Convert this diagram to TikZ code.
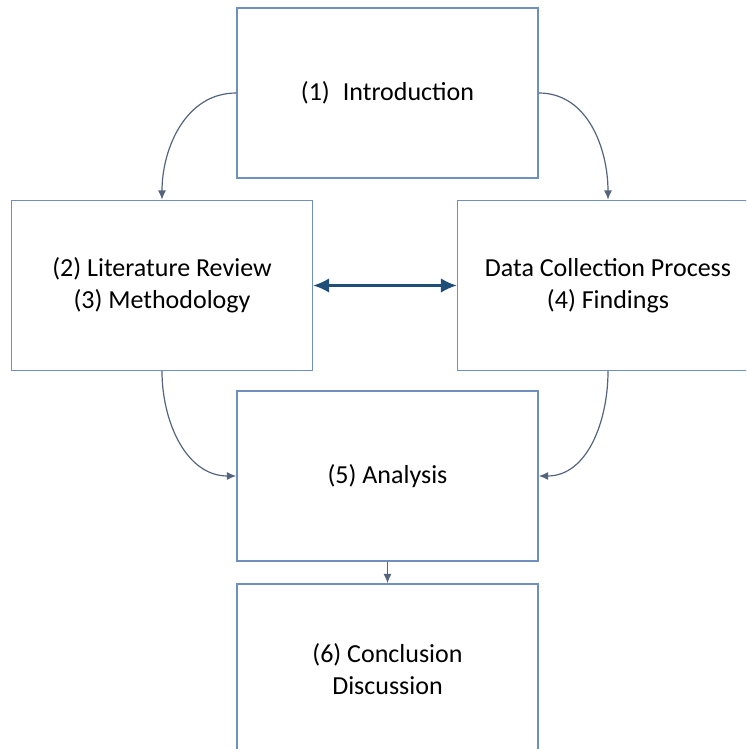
\documentclass[tikz,border=0pt]{standalone}
\usepackage{fontspec}
\setmainfont{Carlito}
\usetikzlibrary{positioning,arrows.meta}
\definecolor{boxline}{HTML}{6F8FBF}
\definecolor{curveline}{HTML}{53647C}
\definecolor{darkarrow}{HTML}{1F4E79}
\tikzset{
  stagebox/.style={draw=boxline, line width=1.1pt, fill=white, align=center,
    minimum width=225.75pt, minimum height=127.5pt, font=\fontsize{19.5}{24}\selectfont},
  flowline/.style={draw=curveline, line width=0.9pt, -{Latex[length=7pt,width=6pt]}},
  linkline/.style={draw=darkarrow, line width=1.6pt, {Latex[length=12pt,width=11pt]}-{Latex[length=12pt,width=11pt]}}
}
\begin{document}
\begin{tikzpicture}[x=0.75pt,y=0.75pt]
\useasboundingbox (0,0) rectangle (746,749);
\clip (0,0) rectangle (746,749);
% stages
\node[stagebox] (intro) at (387.5,656) {(1)\enspace Introduction};
\node[stagebox] (lit) at (162,463.5) {(2) Literature Review\\(3) Methodology};
\node[stagebox] (data) at (608,463.5) {Data Collection Process\\(4) Findings};
\node[stagebox] (anal) at (387.5,273) {(5) Analysis};
\node[stagebox] (concl) at (387.5,80) {(6) Conclusion\\Discussion};
% connectors
\draw[flowline] (intro.west) to[out=180,in=90] (lit.north);
\draw[flowline] (intro.east) to[out=0,in=90] (data.north);
\draw[flowline] (lit.south) to[out=-90,in=180] (anal.west);
\draw[flowline] (data.south) to[out=-90,in=0] (anal.east);
\draw[flowline] (anal.south) -- (concl.north);
\draw[linkline] (lit.east) -- (data.west);
\end{tikzpicture}
\end{document}
